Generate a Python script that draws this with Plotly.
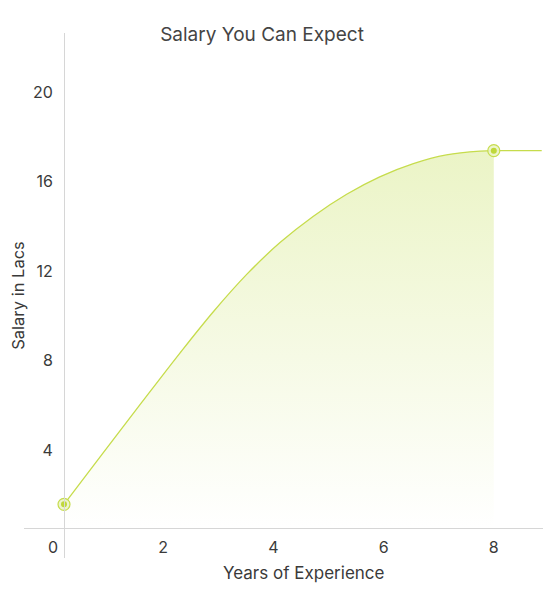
import plotly.graph_objects as go

# values
years = [0.2, 0.9, 1.6, 2.3, 2.91, 3.52, 4.12, 4.72, 5.33, 5.93, 6.54, 7.14, 7.75, 8.0]
salary = [1.57, 3.84, 6.09, 8.32, 10.18, 11.86, 13.27, 14.44, 15.43, 16.21, 16.8, 17.19, 17.36, 17.38]
# flat tail after the last point
tail_years = [8.0, 8.87]
tail_salary = [17.38, 17.38]
# the two highlighted points
marked_years = [0.2, 8.0]
marked_salary = [1.57, 17.38]

x_ticks = [0, 2, 4, 6, 8]
y_ticks = [4, 8, 12, 16, 20]

LINE = "#c6dc4c"
TEXT = "#3a3a3a"
FONT = "Inter"

fig = go.Figure()

fig.add_trace(go.Scatter(
    x=years, y=salary,
    mode="lines",
    line=dict(color=LINE, width=1.3, shape="spline", smoothing=1.0),
    fill="tozeroy",
    fillgradient=dict(
        type="vertical",
        colorscale=[[0, "rgba(255,255,255,1)"], [1, "#ebf4c6"]],
        start=0.5, stop=17.4,
    ),
    hoverinfo="skip",
))
fig.add_trace(go.Scatter(
    x=tail_years, y=tail_salary,
    mode="lines",
    line=dict(color=LINE, width=1.3),
    hoverinfo="skip",
))
# ring + dot markers
fig.add_trace(go.Scatter(
    x=marked_years, y=marked_salary,
    mode="markers",
    marker=dict(size=12, color="rgba(235,244,200,0.9)",
                line=dict(color=LINE, width=1.2)),
    hoverinfo="skip",
))
fig.add_trace(go.Scatter(
    x=marked_years, y=marked_salary,
    mode="markers",
    marker=dict(size=6, color="#bfd83a", line=dict(width=0)),
))

# page body adds an 8px offset, so the figure is sized 8px smaller
fig.update_layout(
    width=550, height=584,
    margin=dict(l=16, r=15, t=25, b=34),
    paper_bgcolor="white", plot_bgcolor="white",
    showlegend=False,
    font=dict(family=FONT, color=TEXT, size=15),
    title=dict(text="Salary You Can Expect", x=254 / 550, xanchor="center",
               y=1 - 26 / 584, yanchor="middle",
               font=dict(family=FONT, size=19, color="#444444")),
    # x title sits centred between the y axis line and the right end
    annotations=[dict(text="Years of Experience", xref="paper", yref="paper",
                      x=0.5 + 0.0771 / 2, y=-15 / 525, yanchor="middle",
                      showarrow=False, font=dict(size=17, color=TEXT))],
)

fig.update_xaxes(
    range=[-0.526, 8.893],
    anchor="free", position=0.0571, automargin=False,
    showline=True, linecolor="#d6d6d6", linewidth=1,
    showgrid=False, zeroline=False,
    tickvals=x_ticks, ticks="outside", ticklen=5, tickcolor="white",
    tickfont=dict(size=16, color=TEXT),
)
fig.update_yaxes(
    range=[-0.83, 22.64],
    anchor="free", position=0.0771, automargin=False,
    showline=True, linecolor="#d6d6d6", linewidth=1,
    showgrid=False, zeroline=False,
    tickvals=y_ticks, ticks="outside", ticklen=8, tickcolor="white",
    tickfont=dict(size=16, color=TEXT),
    title=dict(text="Salary in Lacs", standoff=8,
               font=dict(size=16.5, color=TEXT)),
)

fig.write_html("out.html")
